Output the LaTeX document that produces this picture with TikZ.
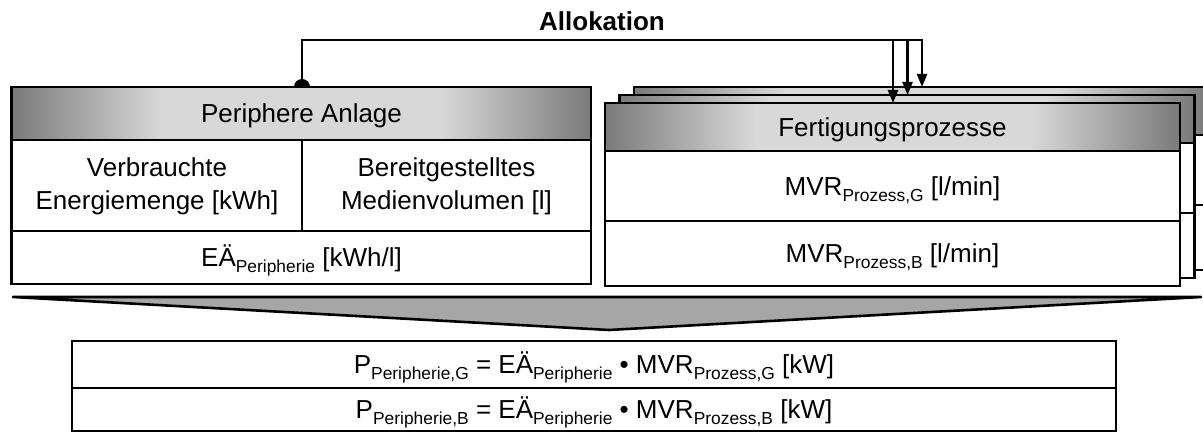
\documentclass[tikz,border=0pt]{standalone}
\usepackage{fontspec}
\setmainfont{Liberation Sans}
\usetikzlibrary{arrows.meta}

\definecolor{hdrdark}{RGB}{122,122,122}
\definecolor{hdrlight}{RGB}{216,216,216}
\definecolor{arrowgray}{RGB}{166,166,166}

% header bars: dark at both ends, light in the middle
% (TikZ fits a path into the 25bp--75bp part of a shading)
\pgfdeclarehorizontalshading{hdrshade}{100bp}{color(0bp)=(hdrdark); color(25bp)=(hdrdark); color(38bp)=(hdrlight); color(62bp)=(hdrlight); color(75bp)=(hdrdark); color(100bp)=(hdrdark)}

% lowered index text
\newcommand\lowidx[1]{\raisebox{-3pt}{\fontsize{8.7}{10}\selectfont #1}}

\tikzset{
  frame/.style={draw=black, line width=1.4pt, fill=white},
  header/.style={draw=black, line width=1.4pt, shade, shading=hdrshade},
  rule/.style={draw=black, line width=1.4pt},
  link/.style={draw=black, line width=1.2pt},
  alloc arrow/.style={link, -{Triangle[length=6.5pt,width=5pt]}},
  txt/.style={font=\fontsize{13}{16.5}\selectfont, inner sep=0pt, anchor=base},
  txttwo/.style={font=\fontsize{13}{16.5}\selectfont, inner sep=0pt, align=center},
}

\begin{document}
\begin{tikzpicture}[x=0.5pt, y=-0.5pt]
\clip (0,0) rectangle (1203,432);
\fill[white] (0,0) rectangle (1203,432);

% ---- peripheral plant ----
\draw[frame] (11.5,87) rectangle (591,284);
\draw[header] (11.5,87) rectangle (591,140);
\draw[rule] (302,140) -- (302,231);
\draw[rule] (11.5,231) -- (591,231);

% ---- stacked manufacturing processes (back to front) ----
\foreach \dx/\dy in {29/-16, 14.5/-8, 0/0} {
  \begin{scope}[shift={(\dx,\dy)}]
    \draw[frame] (605,103) rectangle (1180,286);
    \draw[header] (605,103) rectangle (1180,151);
    \draw[rule] (605,221) -- (1180,221);
  \end{scope}
}

% ---- merging arrow ----
\coordinate (arL) at (13,297);
\coordinate (arR) at (1201,297);
\coordinate (arT) at (609,330);
\filldraw[fill=arrowgray, draw=black, line width=1.3pt, line join=round] (arL) -- (arR) -- (arT) -- cycle;

% ---- result table ----
\draw[frame] (72,341) rectangle (1116,431);
\draw[rule] (72,388) -- (1116,388);

% ---- allocation connector ----
\coordinate (src) at (302,87);
\coordinate (rail) at (922,40);
\coordinate (tgtA) at (893,103);
\coordinate (tgtB) at (907.5,95);
\coordinate (tgtC) at (922,87);
\fill (src) ++(-8,0) arc[start angle=180, end angle=360, radius=8] -- cycle;
\draw[alloc arrow] (src) |- (rail) -- (tgtC);
\draw[alloc arrow] (tgtA |- rail) -- (tgtA);
\draw[alloc arrow] (tgtB |- rail) -- (tgtB);

% ---- texts ----
\node[txt] (alloc) at (602,31) {\bfseries Allokation};
\node[txt] (hdrL) at (301.5,123) {Periphere Anlage};
\node[txttwo] (verb) at (157,186) {Verbrauchte\\Energiemenge [kWh]};
\node[txttwo] (bereit) at (446.5,186) {Bereitgestelltes\\Medienvolumen [l]};
\node[txt] (eae) at (301.5,267) {EÄ\lowidx{Peripherie} [kWh/l]};
\node[txt] (hdrR) at (892.5,136.5) {Fertigungsprozesse};
\node[txt] (mvrG) at (892.5,195.3) {MVR\lowidx{Prozess,G} [l/min]};
\node[txt] (mvrB) at (892.5,262.8) {MVR\lowidx{Prozess,B} [l/min]};
\node[txt] (pG) at (594,373.8) {P\lowidx{Peripherie,G} = EÄ\lowidx{Peripherie} • MVR\lowidx{Prozess,G} [kW]};
\node[txt] (pB) at (594,418.8) {P\lowidx{Peripherie,B} = EÄ\lowidx{Peripherie} • MVR\lowidx{Prozess,B} [kW]};
\end{tikzpicture}
\end{document}
